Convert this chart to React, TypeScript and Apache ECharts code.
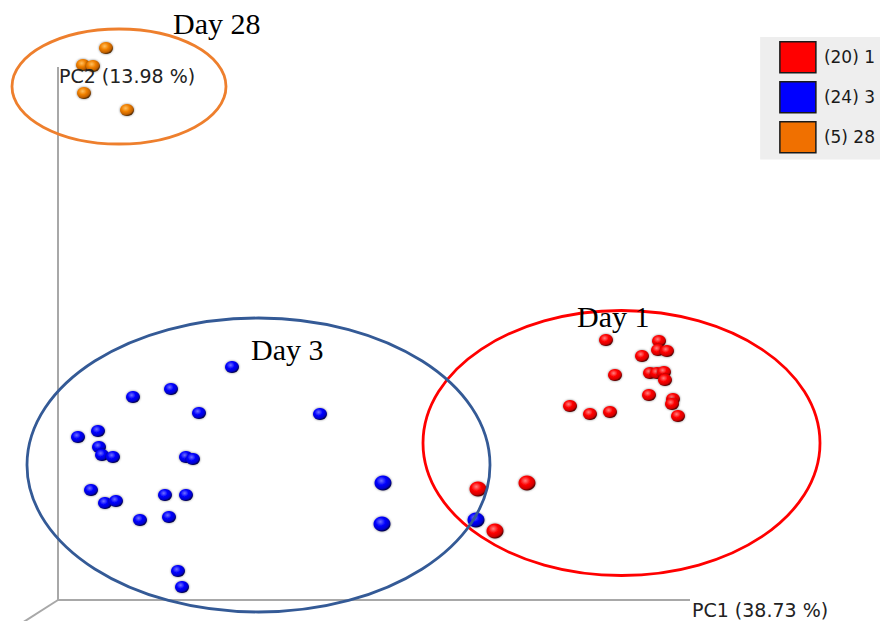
import React, { useEffect, useRef } from "react";
import * as echarts from "echarts";

// Scores in plot units, origin at the axis corner (PC1 right, PC2 up); third value = depth (0 far, 1 near)
const day1Points: number[][] = [
  [548, 260, 0], [601, 259, 0], [600, 250, 0], [609, 249, 0], [584, 244, 0],
  [557, 225, 0], [592, 227, 0], [599, 227, 0], [606, 228, 0], [607, 220, 0],
  [591, 205, 0], [615, 201, 0], [614, 196, 0], [620, 184, 0], [512, 194, 0],
  [532, 186, 0], [552, 188, 0], [469, 117, 1], [420, 111, 1], [437, 69, 1],
];
const day3Points: number[][] = [
  [174, 233, 0], [113, 211, 0], [75, 203, 0], [141, 187, 0], [20, 163, 0],
  [40, 169, 0], [41, 153, 0], [44, 145, 0], [55, 143, 0], [128, 143, 0],
  [135, 141, 0], [33, 110, 0], [47, 97, 0], [58, 99, 0], [107, 105, 0],
  [128, 105, 0], [82, 80, 0], [111, 83, 0], [120, 29, 0], [124, 13, 0],
  [262, 186, 0], [325, 117, 1], [324, 76, 1], [418, 80, 1],
];
const day28Points: number[][] = [
  [48, 552, 0], [25, 535, 0], [35, 534, 0], [26, 507, 0], [69, 490, 0],
];

const seriesNames = ["(20) 1", "(24) 3", "(5) 28"];
const groupLabels = ["Day 1", "Day 3", "Day 28"];
// Ellipses: [centerX, centerY, radiusX, radiusY]
const groupEllipses: number[][] = [
  [563.5, 157, 198.5, 132.5],
  [200.5, 135, 231.5, 147],
  [61, 513.5, 107, 57.5],
];
const axisTitles = ["PC1 (38.73 %)", "PC2 (13.98 %)"];

const baseColors = ["#ff0000", "#0000ff", "#f07000"];
const ellipseColors = ["#ff0000", "#345a96", "#ee7f2d"];
const sphereStops = [
  ["#ff8080", "#ff0000", "#d00000", "#4a0000"],
  ["#7070ff", "#0000ff", "#0000c8", "#000045"],
  ["#ffc060", "#f08000", "#c06000", "#4a2500"],
];

export default function App() {
  const ref = useRef<HTMLDivElement>(null);
  useEffect(() => {
    document.body.style.margin = "0";
    const chart = echarts.init(ref.current!, undefined, { renderer: "svg" });
    const groups = [day1Points, day3Points, day28Points];
    const scatterSeries = groups.map((pts, i) => ({
      type: "scatter",
      name: seriesNames[i],
      data: pts,
      z: 3,
      symbol: "circle",
      symbolSize: (v: number[]) => (v[2] > 0.5 ? [17, 15] : [14, 12]),
      itemStyle: {
        opacity: 1,
        color: new echarts.graphic.RadialGradient(0.4, 0.35, 0.65, [
          { offset: 0, color: sphereStops[i][0] },
          { offset: 0.45, color: sphereStops[i][1] },
          { offset: 0.8, color: sphereStops[i][2] },
          { offset: 1, color: sphereStops[i][3] },
        ]),
        shadowBlur: 2,
        shadowColor: "rgba(0,0,0,0.5)",
      },
      emphasis: { disabled: true },
    }));
    const option: any = {
      animation: false,
      grid: { left: 0, right: 0, top: 0, bottom: 0 },
      xAxis: { type: "value", min: -58, max: 822, show: false },
      yAxis: { type: "value", min: -21, max: 600, show: false },
      legend: {
        orient: "vertical",
        right: 0,
        top: 37,
        backgroundColor: "#eeeeee",
        padding: [4, 5, 6, 19],
        itemWidth: 36,
        itemHeight: 31,
        itemGap: 7.5,
        selectedMode: false,
        inactiveColor: "#ccc",
        textStyle: {
          fontFamily: "DejaVu Sans",
          fontSize: 17,
          color: "#1a1a1a",
          padding: [0, 0, 0, 3],
        },
        data: seriesNames.map((n, i) => ({
          name: n,
          icon: "rect",
          itemStyle: {
            color: baseColors[i],
            opacity: 1,
            borderColor: "#1a1a1a",
            borderWidth: 1.5,
            shadowBlur: 0,
          },
        })),
      },
      series: [
        {
          type: "line",
          name: "axis-frame",
          data: [[0, 533], [0, 0], [632, 0]],
          symbol: "none",
          lineStyle: { color: "#a8a8a8", width: 2 },
          silent: true,
          z: 1,
        },
        {
          type: "line",
          name: "axis-depth",
          data: [[0, 0], [-40, -25.5]],
          symbol: "none",
          lineStyle: { color: "#a8a8a8", width: 2 },
          silent: true,
          z: 1,
        },
        ...scatterSeries,
        {
          type: "custom",
          name: "ellipses",
          data: groupEllipses,
          z: 4,
          silent: true,
          encode: { x: 0, y: 1 },
          renderItem: (params: any, api: any) => {
            const c = api.coord([api.value(0), api.value(1)]);
            const s = api.size([api.value(2), api.value(3)]);
            return {
              type: "ellipse",
              shape: { cx: c[0], cy: c[1], rx: s[0], ry: s[1] },
              style: {
                fill: "none",
                stroke: ellipseColors[params.dataIndex],
                lineWidth: 2.8,
              },
            };
          },
        },
      ],
      graphic: [
        {
          type: "text",
          left: 59,
          top: 66,
          style: { text: axisTitles[1], font: "19px 'DejaVu Sans'", fill: "#222" },
          z: 5,
        },
        {
          type: "text",
          left: 692,
          top: 600,
          style: { text: axisTitles[0], font: "19px 'DejaVu Sans'", fill: "#222" },
          z: 5,
        },
        {
          type: "text",
          left: 577,
          top: 301,
          style: { text: groupLabels[0], font: "30px 'Liberation Serif'", fill: "#000" },
          z: 5,
        },
        {
          type: "text",
          left: 251,
          top: 334,
          style: { text: groupLabels[1], font: "30px 'Liberation Serif'", fill: "#000" },
          z: 5,
        },
        {
          type: "text",
          left: 173,
          top: 8,
          style: { text: groupLabels[2], font: "30px 'Liberation Serif'", fill: "#000" },
          z: 5,
        },
      ],
    };
    chart.setOption(option);
    return () => chart.dispose();
  }, []);
  return <div ref={ref} style={{ width: 880, height: 621 }} />;
}
